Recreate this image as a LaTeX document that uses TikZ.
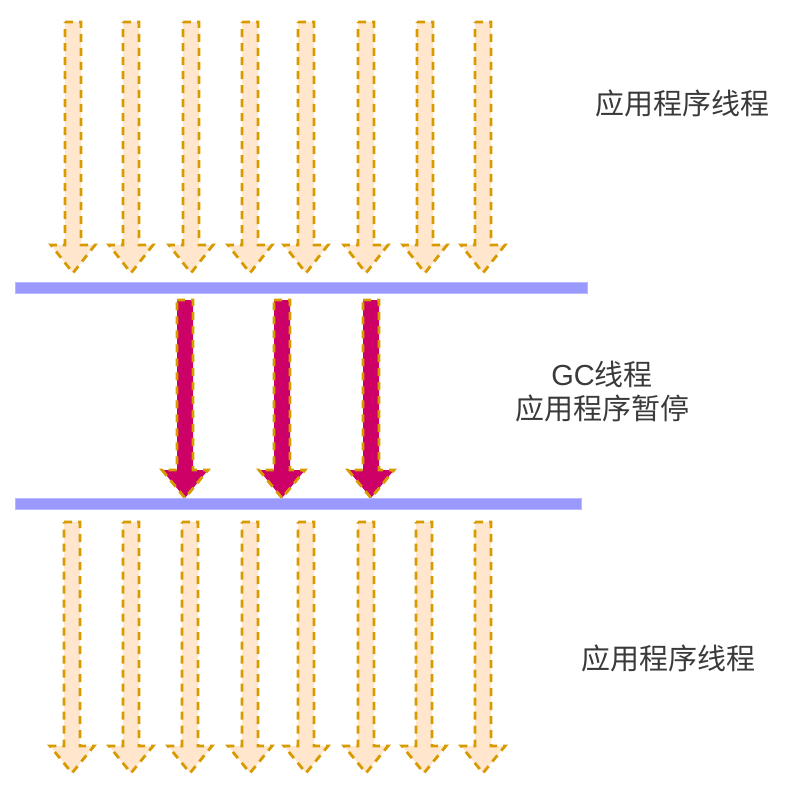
\documentclass[tikz,border=0pt]{standalone}
\usepackage{fontspec}
\setmainfont{Liberation Sans}
\newfontfamily\cjk{Noto Sans CJK SC}
\definecolor{peach}{HTML}{FFE6CC}
\definecolor{amber}{HTML}{D79B00}
\definecolor{gcred}{HTML}{CC0066}
\definecolor{barblue}{HTML}{9999FF}
\definecolor{txt}{HTML}{3A3A3A}
\tikzset{
  apparrow/.style={fill=peach, draw=amber, line width=2.8pt, dash pattern=on 8pt off 6pt, line join=miter},
  gcarrow/.style={fill=gcred, draw=amber, line width=2.8pt, dash pattern=on 8pt off 6pt},
  barstyle/.style={fill=barblue, draw=barblue!70!white, line width=0.8pt},
  label/.style={font=\fontsize{29}{34}\selectfont\cjk, text=txt, inner sep=0pt, align=center}
}
\begin{document}
\begin{tikzpicture}[x=1pt,y=-1pt]
\useasboundingbox (0,0) rectangle (799,789);
% top application threads
\foreach \cx in {73,131,191,250,306,366,425,483}{
  \draw[apparrow] (\cx-8,22) -- (\cx+8,22) -- (\cx+8,245) -- (\cx+22,245) -- (\cx,273) -- (\cx-22,245) -- (\cx-8,245) -- cycle;
}
% bottom application threads
\foreach \cx in {72,131,190,250,306,366,424,483}{
  \draw[apparrow] (\cx-8,522) -- (\cx+8,522) -- (\cx+8,746) -- (\cx+22,746) -- (\cx,773) -- (\cx-22,746) -- (\cx-8,746) -- cycle;
}
% bars
\node[barstyle, minimum width=572pt, minimum height=11pt, inner sep=0pt, anchor=north west] (topbar) at (15,282) {};
\node[barstyle, minimum width=566pt, minimum height=11pt, inner sep=0pt, anchor=north west] (botbar) at (15,498) {};
% GC threads
\foreach \cx in {185,282,371}{
  \draw[gcarrow] (\cx-8,300) -- (\cx+8,300) -- (\cx+8,470) -- (\cx+23,470) -- (\cx,498) -- (\cx-23,470) -- (\cx-8,470) -- cycle;
}
% labels
\node[label] (t1) at (682,103) {应用程序线程};
\node[label] (t2) at (602,374) {{\fontspec{Liberation Sans}GC}线程};
\node[label] (t3) at (602,408) {应用程序暂停};
\node[label] (t4) at (668,658) {应用程序线程};
\end{tikzpicture}
\end{document}
